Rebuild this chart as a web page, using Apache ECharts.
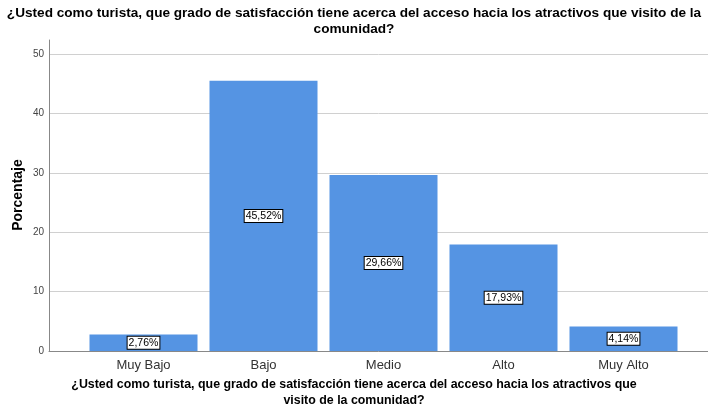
<!DOCTYPE html>
<html>
<head>
<meta charset="utf-8">
<script src="https://cdn.jsdelivr.net/npm/echarts@6/dist/echarts.min.js"></script>
<style>
  html, body { margin: 0; padding: 0; background: #fff; }
  #chart { width: 708px; height: 415px; }
</style>
</head>
<body>
<div id="chart"></div>
<script>
  // datos del grafico
  var categorias = ['Muy Bajo', 'Bajo', 'Medio', 'Alto', 'Muy Alto']
  var porcentajes = [2.76, 45.52, 29.66, 17.93, 4.14]
  var ticksY = [0, 10, 20, 30, 40, 50]

  var titulo = '¿Usted como turista, que grado de satisfacción tiene acerca del acceso hacia los atractivos que visito de la\ncomunidad?'
  var tituloX = '¿Usted como turista, que grado de satisfacción tiene acerca del acceso hacia los atractivos que\nvisito de la comunidad?'

  var fuente = '"Liberation Sans", Arial, sans-serif'
  var yMax = 52.4

  var mychart = echarts.init(document.getElementById('chart'))
  var option = {
    animation: false,
    textStyle: { fontFamily: fuente },
    graphic: [
      {
        type: 'text', left: 'center', top: 5,
        style: { text: titulo, font: 'bold 13.6px ' + fuente, fill: '#000', textAlign: 'center', lineHeight: 16 }
      },
      {
        type: 'text', left: 'center', top: 377,
        style: { text: tituloX, font: 'bold 12.4px ' + fuente, fill: '#000', textAlign: 'center', lineHeight: 16 }
      },
      {
        type: 'text', x: 18, y: 195, rotation: Math.PI / 2,
        style: { text: 'Porcentaje', font: 'bold 14px ' + fuente, fill: '#000', align: 'center', verticalAlign: 'middle' }
      }
    ],
    grid: [
      { left: 49, right: 0, top: 40, bottom: 64 },
      { left: 83.5, width: 600, top: 40, bottom: 64 }
    ],
    xAxis: [
      {
        gridIndex: 0, type: 'category', data: [''],
        axisLine: { lineStyle: { color: '#888' } },
        axisTick: { show: false }, axisLabel: { show: false }
      },
      {
        gridIndex: 1, type: 'category', data: categorias,
        axisLine: { show: false }, axisTick: { show: false },
        axisLabel: { color: '#333', fontSize: 13, margin: 8 }
      }
    ],
    yAxis: [
      {
        gridIndex: 0, type: 'value', min: 0, max: yMax, interval: 10,
        axisLine: { show: true, lineStyle: { color: '#888' } },
        axisTick: { show: false },
        axisLabel: {
          color: '#444', fontSize: 10, margin: 5, showMaxLabel: false,
          formatter: function (v) { return ticksY.indexOf(v) >= 0 ? String(v) : '' }
        },
        splitLine: { show: true, showMaxLine: false, lineStyle: { color: '#d0d0d0' } }
      },
      {
        gridIndex: 1, type: 'value', min: 0, max: yMax, interval: 10,
        show: false, splitLine: { show: false }
      }
    ],
    series: [
      {
        type: 'bar', xAxisIndex: 1, yAxisIndex: 1,
        data: porcentajes, barWidth: 108,
        itemStyle: { color: '#5594e3' },
        label: {
          show: true, position: 'inside', color: '#000', fontSize: 10.5,
          backgroundColor: '#fff', borderColor: '#000', borderWidth: 1, padding: [1, 1, 0, 1],
          formatter: function (p) { return p.value.toFixed(2).replace('.', ',') + '%' }
        }
      }
    ]
  }
  mychart.setOption(option)
</script>
</body>
</html>
